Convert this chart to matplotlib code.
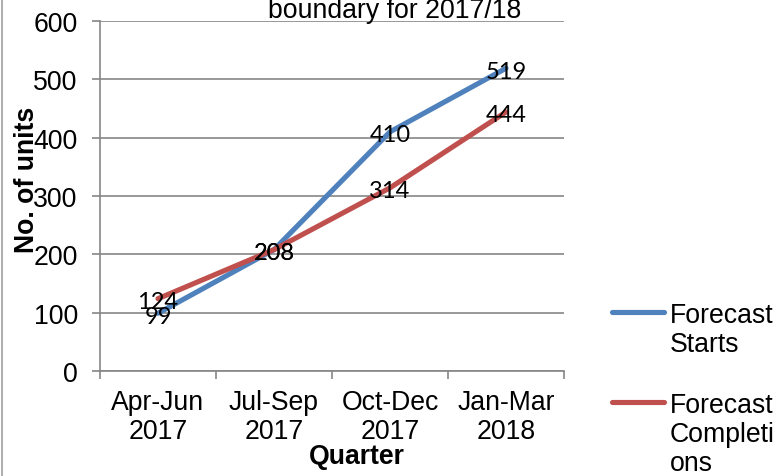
import matplotlib
matplotlib.use("Agg")
import matplotlib.pyplot as plt
from matplotlib.lines import Line2D

categories = ["Apr-Jun\n2017", "Jul-Sep\n2017", "Oct-Dec\n2017", "Jan-Mar\n2018"]
series_names = ["Forecast\nStarts", "Forecast\nCompleti\nons"]
starts = [99, 208, 410, 519]
completions = [124, 208, 314, 444]
yticks = [0, 100, 200, 300, 400, 500, 600]
colors = ["#4F81BD", "#C0504D"]

W, H = 776, 477
fig = plt.figure(figsize=(W / 100, H / 100), dpi=100)
fig.patch.set_facecolor("white")

L, R, T, B = 100, 564, 22, 372
ax = fig.add_axes([L / W, 1 - B / H, (R - L) / W, (B - T) / H])

FS = 19.2
fam = ["Liberation Sans", "DejaVu Sans"]
lab_fam = ["Lato", "DejaVu Sans"]
grey = "#868686"

x = list(range(1, len(categories) + 1))
for vals, c in zip([starts, completions], colors):
    ax.plot(x, vals, color=c, lw=3.7, solid_capstyle="round", zorder=3)
    for xi, v in zip(x, vals):
        ax.annotate(str(v), (xi, v), xytext=(0, -2), textcoords="offset points",
                    ha="center", va="center", fontsize=17, family=lab_fam,
                    color="black", zorder=4)

ax.set_xlim(0.5, len(categories) + 0.5)
ax.set_ylim(0, 600)
ax.set_yticks(yticks)
ax.set_yticklabels([str(t) for t in yticks], fontsize=FS, family=fam)
ax.set_xticks([i + 0.5 for i in range(0, len(categories) + 1)])
ax.set_xticklabels([])
ax.set_xticks(x, minor=True)
ax.set_xticklabels(categories, minor=True, fontsize=FS, family=fam, linespacing=1.15)
ax.tick_params(axis="x", which="minor", length=0, pad=13)
ax.tick_params(axis="x", which="major", length=6, width=1.2, color=grey, direction="out")
ax.tick_params(axis="y", length=6, width=1.2, color=grey, direction="out", pad=10)

ax.yaxis.grid(True, color=grey, lw=1.2)
ax.set_axisbelow(True)
for s in ["top", "right"]:
    ax.spines[s].set_visible(False)
for s in ["left", "bottom"]:
    ax.spines[s].set_color(grey)
    ax.spines[s].set_linewidth(1.2)

fig.text(357 / W, 1 - 457 / H, "Quarter", ha="center", va="center",
         fontsize=FS, fontweight="bold", family=fam)
fig.text(27 / W, 1 - 180 / H, "No. of units", ha="center", va="center",
         rotation=90, fontsize=FS, fontweight="bold", family=fam)

fig.text(395 / W, 1 - 18 / H, "boundary for 2017/18", ha="center", va="baseline",
         fontsize=FS, family=fam)

# left border
fig.add_artist(Line2D([1.5 / W, 1.5 / W], [0, 1], color="#A0A0A0", lw=1.2))

# legend
leg_y = [313, 403]
for name, c, yy in zip(series_names, colors, leg_y):
    fig.add_artist(Line2D([612 / W, 664 / W], [1 - yy / H, 1 - yy / H], color=c,
                          lw=3.7, solid_capstyle="round"))
    for k, line in enumerate(name.split("\n")):
        base = yy + 10 + 29 * k
        fig.text(670 / W, 1 - base / H, line, ha="left", va="baseline",
                 fontsize=FS, family=fam)

fig.savefig("out.png", dpi=100)
